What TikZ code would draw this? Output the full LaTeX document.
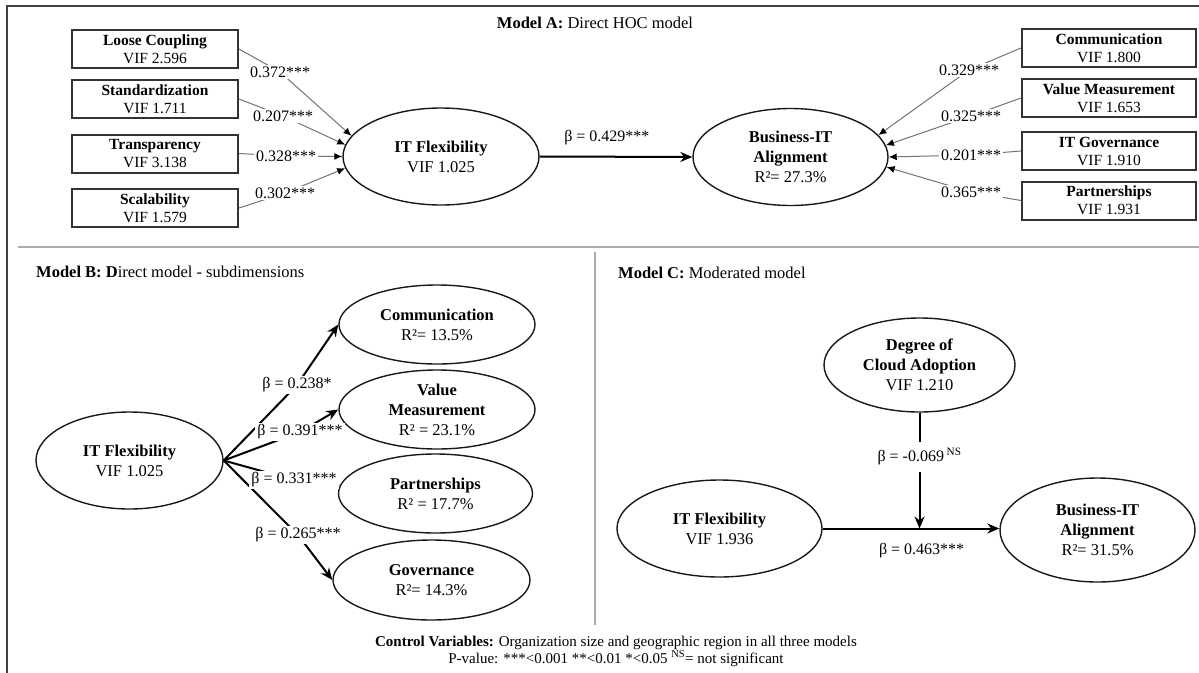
\documentclass[tikz,border=0pt]{standalone}
\usepackage{fontspec}
\setmainfont{Liberation Serif}
\usetikzlibrary{arrows.meta,shapes.geometric,calc}
\begin{document}
\begin{tikzpicture}[x=1pt,y=-1pt,
  frame/.style={draw=black!75, line width=1.8pt},
  sep/.style={draw=black!33, line width=1.8pt},
  ind/.style={draw=black!80, line width=2pt, rectangle, minimum width=166pt, minimum height=38pt, inner sep=1pt, align=center, font=\fontsize{15.5}{18}\selectfont},
  lv/.style={draw=black!90, line width=1.4pt, ellipse, inner sep=0pt, align=center, font=\fontsize{16.5}{20}\selectfont},
  wlbl/.style={fill=white, inner sep=2pt, font=\fontsize{16}{18}\selectfont},
  plbl/.style={inner sep=1pt, font=\fontsize{16}{18}\selectfont},
  thinarr/.style={draw=black!55, line width=1pt, -{Latex[black,length=8pt,width=7pt]}},
  thickarr/.style={draw=black, line width=2pt, -{Stealth[length=12pt,width=10pt]}},
  title/.style={font=\fontsize{16.5}{19}\selectfont, inner sep=0pt}]
\useasboundingbox (0,0) rectangle (1199,672);
\clip (0,0) rectangle (1199,672);
% frame and separators
\draw[frame] (7,6) rectangle (1215,700);
\draw[sep] (18,247) -- (1210,247);
\draw[sep] (595,252) -- (595,625);

% ---------------- Model A ----------------
\node[title] (titA) at (595,23) {\textbf{Model A:} Direct HOC model};
\node[ind] (lc) at (155,49) {\textbf{Loose Coupling}\\VIF 2.596};
\node[ind] (st) at (155,99) {\textbf{Standardization}\\VIF 1.711};
\node[ind] (tr) at (155,153.5) {\textbf{Transparency}\\VIF 3.138};
\node[ind] (sc) at (155,208) {\textbf{Scalability}\\VIF 1.579};
\node[lv, minimum width=196pt, minimum height=97pt] (itfA) at (441,156.5) {\textbf{IT Flexibility}\\VIF 1.025};
\node[lv, minimum width=195pt, minimum height=97pt] (bizA) at (790.5,157) {\textbf{Business-IT}\\\textbf{Alignment}\\R²= 27.3\%};
\node[ind, minimum width=174pt] (co) at (1109,48) {\textbf{Communication}\\VIF 1.800};
\node[ind, minimum width=174pt] (vm) at (1109,98) {\textbf{Value Measurement}\\VIF 1.653};
\node[ind, minimum width=174pt] (ig) at (1109,151) {\textbf{IT Governance}\\VIF 1.910};
\node[ind, minimum width=174pt] (pa) at (1109,200.5) {\textbf{Partnerships}\\VIF 1.931};

\coordinate (l1) at (280,72);
\coordinate (l2) at (283,116);
\coordinate (l3) at (286,156);
\coordinate (l4) at (285,193);
\coordinate (r1) at (969,70);
\coordinate (r2) at (971,116);
\coordinate (r3) at (971,155);
\coordinate (r4) at (971,192);
\draw[thinarr] (lc.east) -- (l1) -- (itfA.167);
\draw[thinarr] (st.east) -- (l2) -- (itfA.173);
\draw[thinarr] (tr.east) -- (l3) -- (itfA.180);
\draw[thinarr] (sc.east) -- (l4) -- (itfA.187);
\draw[thinarr] (co.west) -- (r1) -- (bizA.14);
\draw[thinarr] (vm.west) -- (r2) -- (bizA.7);
\draw[thinarr] (ig.west) -- (r3) -- (bizA.0);
\draw[thinarr] (pa.west) -- (r4) -- (bizA.354);
\node[wlbl] (t1) at (l1) {0.372***};
\node[wlbl] (t2) at (l2) {0.207***};
\node[wlbl] (t3) at (l3) {0.328***};
\node[wlbl] (t4) at (l4) {0.302***};
\node[wlbl] (u1) at (r1) {0.329***};
\node[wlbl] (u2) at (r2) {0.325***};
\node[wlbl] (u3) at (r3) {0.201***};
\node[wlbl] (u4) at (r4) {0.365***};
\draw[thickarr] (itfA.east) -- node[plbl, pos=0.44, yshift=19pt] {β = 0.429***} (bizA.west);

% ---------------- Model B ----------------
\node[title, anchor=west] (titB) at (36,272) {\textbf{Model B: D}irect model - subdimensions};
\node[lv, minimum width=187pt, minimum height=97pt] (itfB) at (129.5,460.5) {\textbf{IT Flexibility}\\VIF 1.025};
\node[lv, minimum width=196pt, minimum height=79pt] (coB) at (437,324.5) {\textbf{Communication}\\R²= 13.5\%};
\node[lv, minimum width=196pt, minimum height=79pt] (vmB) at (437,409.5) {\textbf{Value}\\\textbf{Measurement}\\R² = 23.1\%};
\node[lv, minimum width=194pt, minimum height=79pt] (paB) at (435.5,493.5) {\textbf{Partnerships}\\R² = 17.7\%};
\node[lv, minimum width=197pt, minimum height=80pt] (goB) at (431.5,580) {\textbf{Governance}\\R²= 14.3\%};
\coordinate (b1) at (297,385);
\coordinate (b2) at (300,432);
\coordinate (b3) at (294,480);
\coordinate (b4) at (298,535);
\draw[thickarr] (itfB.east) -- (b1) -- (coB.west);
\draw[thickarr] (itfB.east) -- (b2) -- (vmB.west);
\draw[thickarr] (itfB.east) -- (b3) -- (paB.175);
\draw[thickarr] (itfB.east) -- (b4) -- (goB.west);
\node[wlbl] (c1) at (b1) {β = 0.238*};
\node[wlbl] (c2) at (b2) {β = 0.391***};
\node[wlbl] (c3) at (b3) {β = 0.331***};
\node[wlbl] (c4) at (b4) {β = 0.265***};

% ---------------- Model C ----------------
\node[title, anchor=west] (titC) at (618,273) {\textbf{Model C:} Moderated model};
\node[lv, minimum width=191pt, minimum height=94pt] (degC) at (919.5,365) {\textbf{Degree of}\\\textbf{Cloud Adoption}\\VIF 1.210};
\node[lv, minimum width=205pt, minimum height=97pt] (itfC) at (719.5,528.5) {\textbf{IT Flexibility}\\VIF 1.936};
\node[lv, minimum width=195pt, minimum height=104pt] (bizC) at (1097.5,530) {\textbf{Business-IT}\\\textbf{Alignment}\\R²= 31.5\%};
\coordinate (mC) at (degC.south |- itfC.east);
\draw[thickarr] (itfC.east) -- node[plbl, pos=0.56, yshift=-22pt] {β = 0.463***} (itfC.east -| bizC.west);
\draw[thickarr] (degC.south) -- node[wlbl, pos=0.38, minimum width=113pt, minimum height=30pt] {β = -0.069\,\textsuperscript{NS}} (mC);

% ---------------- footer ----------------
\node[align=center, inner sep=0pt, font=\fontsize{15}{17}\selectfont] (foot) at (616,651) {\textbf{Control Variables:} Organization size and geographic region in all three models\\P-value: ***<0.001 **<0.01 *<0.05 \textsuperscript{NS}= not significant};
\end{tikzpicture}
\end{document}
